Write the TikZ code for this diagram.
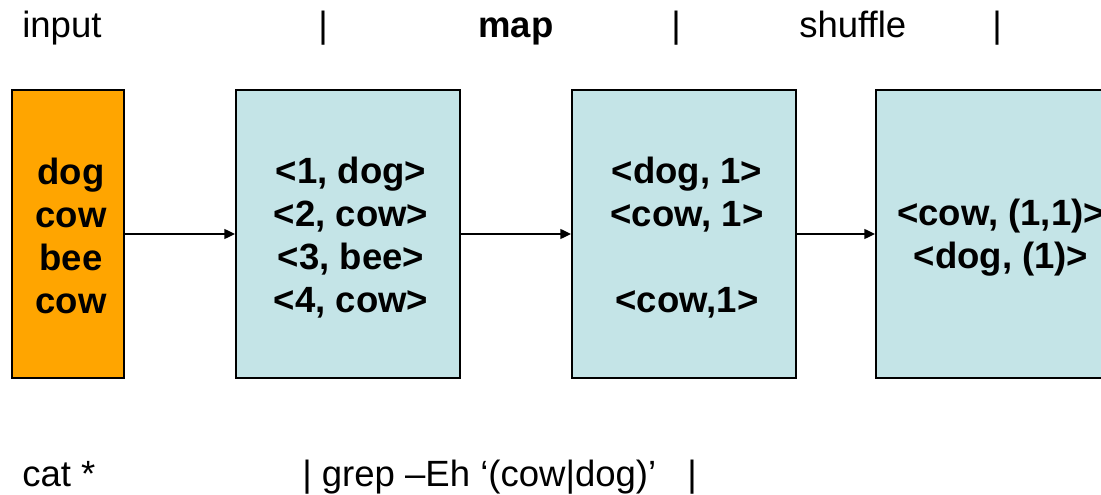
\documentclass[tikz,border=0pt]{standalone}
\usepackage{fontspec}
\setmainfont{Liberation Sans}
\usepackage{tikz}
\usetikzlibrary{arrows.meta}
\definecolor{InputOrange}{RGB}{255,165,0}
\definecolor{StageBlue}{RGB}{196,228,231}

\begin{document}
\begin{tikzpicture}[x=0.75pt,y=0.75pt,yscale=-1,xscale=1,
  stagebox/.style={draw=black,line width=1.5pt,fill=StageBlue,minimum height=216pt,inner sep=0pt},
  boxtext/.style={inner sep=0pt,align=center,font=\bfseries\fontsize{27.4pt}{32.25pt}\selectfont},
  label/.style={inner sep=0pt,font=\fontsize{27.4pt}{32.25pt}\selectfont},
  flow/.style={line width=1pt,-{Triangle[length=8pt,width=7.5pt]}}]
\useasboundingbox (0,0) rectangle (1101,495);

%Shape: Rectangle
\draw (68,234) node [stagebox,fill=InputOrange,minimum width=84pt] (words) {};
\draw ([shift={(3,2)}]words.center) node [boxtext] (wordstext) {dog\\cow\\bee\\cow};
%Shape: Rectangle
\draw (348,234) node [stagebox,minimum width=168pt] (numbered) {};
\draw ([shift={(3,4)}]numbered.center) node [boxtext] (numberedtext) {<1, dog>\\<2, cow>\\<3, bee>\\<4, cow>};
%Shape: Rectangle
\draw (684,234) node [stagebox,minimum width=168pt] (mapped) {};
\draw ([shift={(3,4)}]mapped.center) node [boxtext] (mappedtext) {<dog, 1>\\<cow, 1>\\\mbox{}\\<cow,1>};
%Shape: Rectangle
\draw (998,234) node [stagebox,minimum width=183pt] (grouped) {};
\draw ([shift={(3,4)}]grouped.center) node [boxtext] (groupedtext) {<cow, (1,1)>\\<dog, (1)>};

%Straight Lines
\draw [flow] (words) -- (numbered);
%Straight Lines
\draw [flow] (numbered) -- (mapped);
%Straight Lines
\draw [flow] (mapped) -- (grouped);

% Text Node
\draw (22,38) node [label,anchor=base west] (input) {input};
% Text Node
\draw (323,38) node [label,anchor=base] (bara) {|};
% Text Node
\draw (478,38) node [label,anchor=base west] (map) {\textbf{map}};
% Text Node
\draw (676,38) node [label,anchor=base] (barb) {|};
% Text Node
\draw (799,38) node [label,anchor=base west] (shuffle) {shuffle};
% Text Node
\draw (997,38) node [label,anchor=base] (barc) {|};

% Text Node
\draw (22,487) node [label,anchor=base west] (cat) {cat *};
% Text Node
\draw (302,487) node [label,anchor=base west] (grep) {| grep –Eh ‘(cow|dog)’};
% Text Node
\draw (692,487) node [label,anchor=base] (bard) {|};

\end{tikzpicture}
\end{document}
